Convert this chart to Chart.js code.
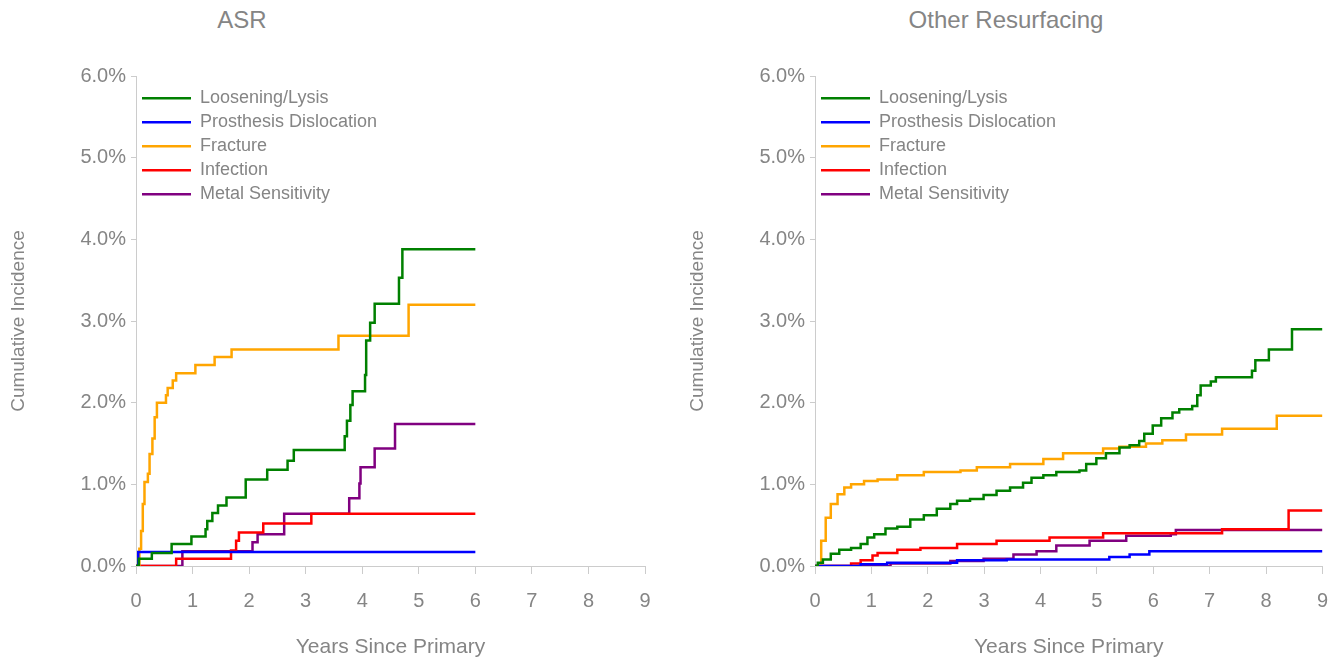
<!DOCTYPE html>
<html>
<head>
<meta charset="utf-8">
<script src="https://cdn.jsdelivr.net/npm/chart.js@4"></script>
<style>
  body { margin: 0; background: #fff; width: 1343px; height: 664px; position: relative; overflow: hidden; }
  .title { position: absolute; top: 6px; font: 24px "Liberation Sans", Arial, sans-serif; color: #858585; transform: translateX(-50%); white-space: nowrap; }
  .box { position: absolute; top: 0; height: 664px; }
</style>
</head>
<body>
<div class="title" style="left:242px">ASR</div>
<div class="title" style="left:1006px">Other Resurfacing</div>
<div class="box" style="left:0;width:672px"><canvas id="asr" width="672" height="664"></canvas></div>
<div class="box" style="left:679px;width:664px"><canvas id="other" width="664" height="664"></canvas></div>
<script>
// series labels and colours
const seriesNames = ["Loosening/Lysis", "Prosthesis Dislocation", "Fracture", "Infection", "Metal Sensitivity"];
const seriesColors = ["#008000", "#0000ff", "#ffa500", "#ff0000", "#800080"];

// ASR: [years, cumulative incidence %]
const asrLoosening = [[0,0],[0.05,0.09],[0.28,0.16],[0.63,0.27],[0.98,0.36],[1.23,0.45],[1.26,0.55],[1.35,0.65],[1.45,0.74],[1.6,0.84],[1.94,1.06],[2.32,1.18],[2.68,1.29],[2.79,1.42],[3.69,1.59],[3.73,1.78],[3.79,1.97],[3.83,2.14],[4.05,2.34],[4.07,2.76],[4.14,2.98],[4.22,3.21],[4.65,3.53],[4.71,3.88],[6,3.88]];
const asrDislocation = [[0,0],[0.04,0.17],[6,0.17]];
const asrFracture = [[0,0],[0.05,0],[0.06,0.21],[0.09,0.43],[0.12,0.76],[0.15,1.03],[0.21,1.13],[0.24,1.37],[0.29,1.56],[0.33,1.82],[0.37,2.0],[0.53,2.09],[0.56,2.18],[0.65,2.27],[0.71,2.36],[1.05,2.46],[1.39,2.56],[1.69,2.65],[3.58,2.82],[4.82,3.2],[6,3.2]];
const asrInfection = [[0,0],[0.71,0.09],[1.68,0.19],[1.77,0.31],[1.82,0.41],[2.25,0.52],[3.1,0.64],[6,0.64]];
const asrMetal = [[0,0],[0.82,0.18],[2.06,0.29],[2.15,0.39],[2.62,0.64],[3.77,0.83],[3.95,1.01],[3.97,1.21],[4.22,1.44],[4.58,1.74],[6,1.74]];

// Other Resurfacing
const othLoosening = [[0,0],[0.05,0.04],[0.14,0.08],[0.28,0.15],[0.43,0.2],[0.64,0.22],[0.81,0.27],[0.93,0.35],[1.05,0.39],[1.25,0.46],[1.46,0.48],[1.69,0.57],[1.93,0.62],[2.16,0.7],[2.4,0.76],[2.52,0.8],[2.75,0.82],[2.99,0.87],[3.22,0.92],[3.46,0.96],[3.69,1.02],[3.84,1.08],[4.05,1.11],[4.28,1.15],[4.69,1.17],[4.81,1.25],[4.99,1.32],[5.16,1.38],[5.4,1.45],[5.58,1.48],[5.75,1.53],[5.84,1.62],[5.99,1.72],[6.14,1.81],[6.34,1.88],[6.46,1.92],[6.69,1.96],[6.78,2.09],[6.84,2.21],[7.02,2.26],[7.11,2.31],[7.75,2.39],[7.81,2.52],[8.05,2.65],[8.46,2.9],[9,2.9]];
const othDislocation = [[0,0],[0.81,0.02],[1.28,0.04],[2.52,0.07],[3.4,0.08],[5.22,0.11],[5.58,0.14],[5.93,0.18],[9,0.18]];
const othFracture = [[0,0],[0.11,0.31],[0.19,0.59],[0.28,0.76],[0.4,0.88],[0.52,0.96],[0.64,1.0],[0.87,1.04],[1.11,1.06],[1.46,1.11],[1.93,1.15],[2.58,1.17],[2.87,1.21],[3.46,1.25],[4.05,1.31],[4.4,1.38],[5.11,1.44],[5.4,1.46],[5.87,1.5],[6.16,1.54],[6.58,1.61],[7.22,1.68],[8.19,1.84],[9,1.84]];
const othInfection = [[0,0],[0.64,0.03],[0.81,0.07],[1.02,0.13],[1.11,0.16],[1.46,0.2],[1.87,0.22],[2.52,0.27],[3.22,0.31],[4.16,0.35],[5.11,0.4],[7.22,0.45],[8.4,0.68],[9,0.68]];
const othMetal = [[0,0],[1.34,0.03],[2.4,0.06],[2.99,0.09],[3.52,0.14],[3.93,0.18],[4.28,0.25],[4.87,0.31],[5.52,0.37],[6.31,0.39],[6.4,0.44],[9,0.44]];

const yTicks = [0, 1, 2, 3, 4, 5, 6];
const xTicks = [0, 1, 2, 3, 4, 5, 6, 7, 8, 9];

const grey = "#858585";
const axisGrey = "#cccccc";
const fontFamily = '"Liberation Sans", Arial, sans-serif';

function makeChart(id, series, rightPad) {
  const ctx = document.getElementById(id).getContext("2d");
  return new Chart(ctx, {
    type: "line",
    data: {
      datasets: series.map((pts, i) => ({
        label: seriesNames[i],
        data: pts.map(p => ({ x: p[0], y: p[1] })),
        borderColor: seriesColors[i],
        backgroundColor: seriesColors[i],
        borderWidth: 2.5,
        pointRadius: 0,
        stepped: true,
        fill: false
      }))
    },
    options: {
      responsive: false,
      animation: false,
      layout: { padding: { top: 76, right: rightPad, bottom: 0, left: 0 } },
      scales: {
        x: {
          type: "linear",
          min: 0,
          max: 9,
          afterFit: s => { s.height = 98; },
          afterBuildTicks: s => { s.ticks = xTicks.map(v => ({ value: v })); },
          ticks: { color: grey, font: { family: fontFamily, size: 20 }, padding: 15, maxRotation: 0 },
          grid: { drawOnChartArea: false, color: axisGrey, tickLength: 8 },
          border: { color: axisGrey },
          title: { display: true, text: "Years Since Primary", color: grey, font: { family: fontFamily, size: 21 }, padding: { top: 0, bottom: 4 } }
        },
        y: {
          min: 0,
          max: 6,
          afterFit: s => { s.width = 136; },
          afterBuildTicks: s => { s.ticks = yTicks.map(v => ({ value: v })); },
          ticks: { color: grey, font: { family: fontFamily, size: 20 }, padding: 5, callback: v => v.toFixed(1) + "%" },
          grid: { drawOnChartArea: false, color: axisGrey, tickLength: 5 },
          border: { color: axisGrey },
          title: { display: true, text: "Cumulative Incidence", color: grey, font: { family: fontFamily, size: 19 }, padding: { top: 7, bottom: 0 } }
        }
      },
      plugins: {
        legend: {
          position: "chartArea",
          align: "start",
          // empty title only pushes the rows down inside the plot
          title: { display: true, text: " ", font: { size: 1 }, padding: { top: 82, bottom: 0 } },
          labels: {
            boxWidth: 49,
            boxHeight: 0,
            padding: 6,
            color: grey,
            font: { family: fontFamily, size: 18 }
          }
        },
        tooltip: { enabled: false }
      }
    }
  });
}

makeChart("asr", [asrLoosening, asrDislocation, asrFracture, asrInfection, asrMetal], 27);
makeChart("other", [othLoosening, othDislocation, othFracture, othInfection, othMetal], 20);
</script>
</body>
</html>
